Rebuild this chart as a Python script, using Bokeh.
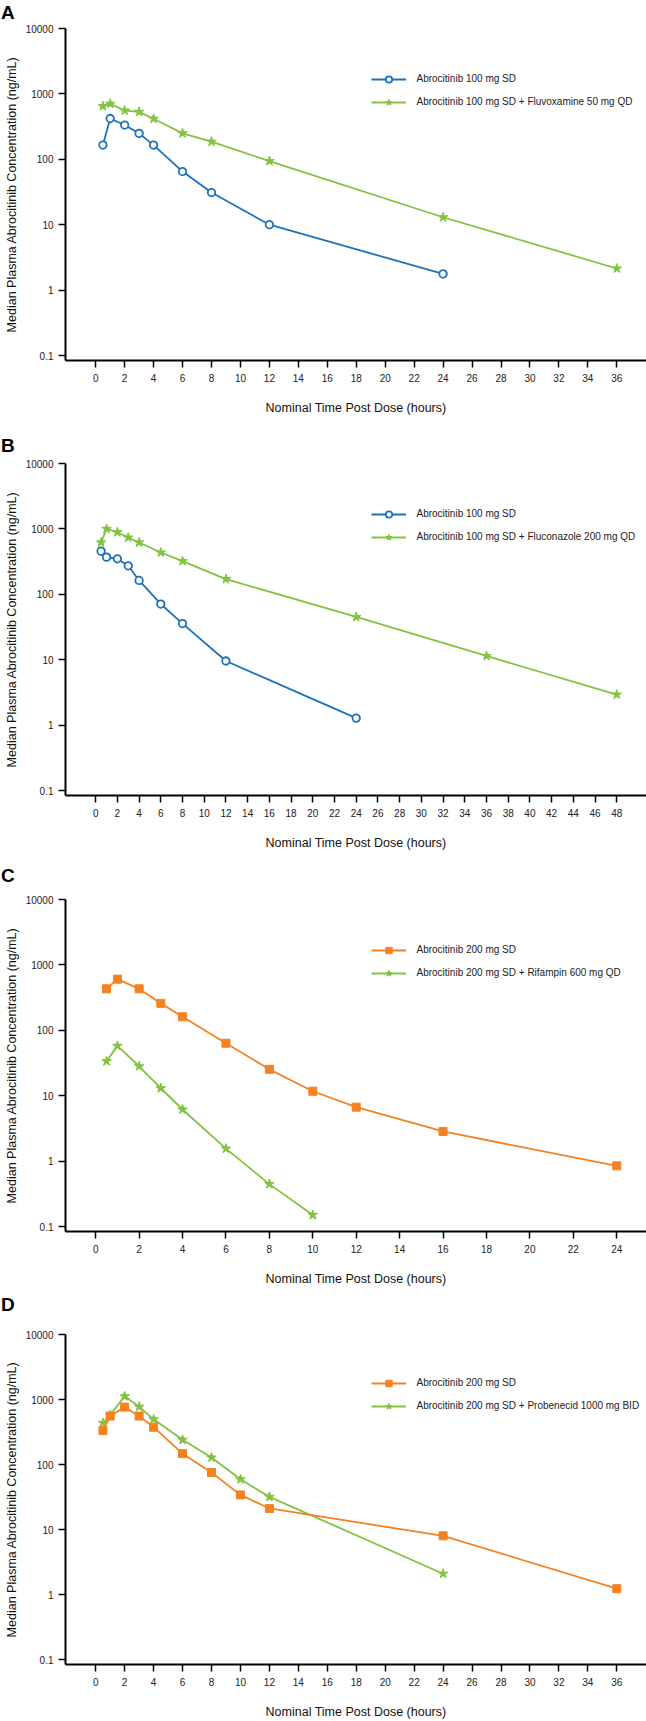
from bokeh.plotting import figure
from bokeh.models import FixedTicker, Legend, LegendItem, Range1d, LogTickFormatter, Div
from bokeh.layouts import column
from bokeh.embed import file_html
from bokeh.resources import INLINE

# ---------------- data ----------------
# Panel A: abrocitinib 100 mg SD alone vs + fluvoxamine
a_time_ref = [0.5, 1, 2, 3, 4, 6, 8, 12, 24]
a_conc_ref = [165, 421, 334, 249, 165, 65, 31, 10, 1.77]
a_time_int = [0.5, 1, 2, 3, 4, 6, 8, 12, 24, 36]
a_conc_int = [649, 705, 557, 532, 416, 249, 186, 94, 13.0, 2.14]
a_labels = ["Abrocitinib 100 mg SD", "Abrocitinib 100 mg SD + Fluvoxamine 50 mg QD"]
a_x_ticks = [0, 2, 4, 6, 8, 10, 12, 14, 16, 18, 20, 22, 24, 26, 28, 30, 32, 34, 36]

# Panel B: abrocitinib 100 mg SD alone vs + fluconazole
b_time_ref = [0.5, 1, 2, 3, 4, 6, 8, 12, 24]
b_conc_ref = [457, 370, 349, 273, 163, 71, 35.7, 9.55, 1.28]
b_time_int = [0.5, 1, 2, 3, 4, 6, 8, 12, 24, 36, 48]
b_conc_int = [620, 1000, 890, 738, 620, 436, 322, 171, 45, 11.4, 2.93]
b_labels = ["Abrocitinib 100 mg SD", "Abrocitinib 100 mg SD + Fluconazole 200 mg QD"]
b_x_ticks = [0, 2, 4, 6, 8, 10, 12, 14, 16, 18, 20, 22, 24, 26, 28, 30, 32, 34, 36,
             38, 40, 42, 44, 46, 48]

# Panel C: abrocitinib 200 mg SD alone vs + rifampin
c_time_ref = [0.5, 1, 2, 3, 4, 6, 8, 10, 12, 16, 24]
c_conc_ref = [431, 605, 431, 258, 161, 63.5, 25.3, 11.7, 6.68, 2.84, 0.846]
c_time_int = [0.5, 1, 2, 3, 4, 6, 8, 10]
c_conc_int = [33.7, 57.8, 28.2, 13.0, 6.15, 1.55, 0.445, 0.15]
c_labels = ["Abrocitinib 200 mg SD", "Abrocitinib 200 mg SD + Rifampin 600 mg QD"]
c_x_ticks = [0, 2, 4, 6, 8, 10, 12, 14, 16, 18, 20, 22, 24]

# Panel D: abrocitinib 200 mg SD alone vs + probenecid
d_time_ref = [0.5, 1, 2, 3, 4, 6, 8, 10, 12, 24, 36]
d_conc_ref = [333, 557, 764, 557, 375, 147, 75.5, 34.1, 21.1, 8.0, 1.23]
d_time_int = [0.5, 1, 2, 3, 4, 6, 8, 10, 12, 24]
d_conc_int = [436, 575, 1123, 773, 496, 240, 128, 59.2, 31.8, 2.09]
d_labels = ["Abrocitinib 200 mg SD", "Abrocitinib 200 mg SD + Probenecid 1000 mg BID"]
d_x_ticks = [0, 2, 4, 6, 8, 10, 12, 14, 16, 18, 20, 22, 24, 26, 28, 30, 32, 34, 36]

y_ticks = [0.1, 1, 10, 100, 1000, 10000]
y_tick_labels = ["0.1", "1", "10", "100", "1000", "10000"]

panel_letters = ["A", "B", "C", "D"]
x_title = "Nominal Time Post Dose (hours)"
y_title = "Median Plasma Abrocitinib Concentration (ng/mL)"

# ---------------- style ----------------
FONT = "Liberation Sans"
BLUE = "#1b73ba"
GREEN = "#82c341"
ORANGE = "#f48221"
FRAME_H = 332
W = 646


def letter_strip(letter, height, line_h):
    return Div(text=letter, width=W, height=height,
               styles={"font-family": FONT, "font-size": "19px", "font-weight": "bold",
                       "line-height": f"{line_h}px", "color": "black",
                       "margin": "0", "padding": "0 0 0 1px"})


def make_panel(height, b_bottom, x_start, x_end, x_ticks,
               t_ref, c_ref, t_int, c_int, labels, ref_style):
    p = figure(width=W, height=height, y_axis_type="log",
               x_range=Range1d(x_start, x_end), y_range=Range1d(0.0839, 10000.5),
               output_backend="svg", toolbar_location=None,
               min_border_left=65, min_border_right=0,
               min_border_top=8, min_border_bottom=b_bottom)
    p.outline_line_color = None
    p.grid.visible = False
    p.background_fill_color = "white"

    # interaction series (green) first, reference series drawn on top
    l_int = p.line(t_int, c_int, line_color=GREEN, line_width=1.8)
    m_int = p.scatter(t_int, c_int, marker="star", size=10, fill_color=GREEN,
                      line_color=GREEN, line_width=1)
    l_ref = p.line(t_ref, c_ref, line_color=ref_style["color"], line_width=1.8)
    if ref_style["marker"] == "circle":
        m_ref = p.scatter(t_ref, c_ref, marker="circle", size=7.5, fill_color="white",
                          line_color=ref_style["color"], line_width=1.8)
    else:
        m_ref = p.scatter(t_ref, c_ref, marker="square", size=8,
                          fill_color=ref_style["color"], line_color=ref_style["color"],
                          line_width=1)

    yax = p.yaxis[0]
    yax.ticker = FixedTicker(ticks=y_ticks, minor_ticks=[])
    yax.formatter = LogTickFormatter(min_exponent=5)
    yax.major_label_overrides = dict(zip(y_ticks, y_tick_labels))
    xax = p.xaxis[0]
    xax.ticker = FixedTicker(ticks=x_ticks, minor_ticks=[])
    for ax in (xax, yax):
        ax.axis_line_width = 2
        ax.axis_line_color = "black"
        ax.major_tick_line_width = 1.5
        ax.major_tick_line_color = "black"
        ax.major_tick_in = 0
        ax.major_tick_out = 7
        ax.minor_tick_out = 0
        ax.minor_tick_in = 0
        ax.major_label_text_font = FONT
        ax.major_label_text_font_size = "10px"
        ax.major_label_text_color = "#222222"
        ax.axis_label_text_font = FONT
        ax.axis_label_text_font_size = "12.5px"
        ax.axis_label_text_font_style = "normal"
        ax.axis_label_text_color = "#111111"
    yax.major_label_standoff = 5
    yax.axis_label = y_title
    yax.axis_label_standoff = 4
    xax.major_label_standoff = 6
    xax.axis_label = x_title
    xax.axis_label_standoff = 16

    legend = Legend(items=[LegendItem(label=labels[0], renderers=[l_ref, m_ref]),
                           LegendItem(label=labels[1], renderers=[l_int, m_int])],
                    location=(305.5, FRAME_H - 42.6 - 39), orientation="vertical",
                    glyph_width=35, glyph_height=16, label_height=16, spacing=7,
                    label_standoff=11, padding=0, margin=0,
                    border_line_color=None, background_fill_alpha=0,
                    label_text_font=FONT, label_text_font_size="10px",
                    label_text_color="#222222")
    p.add_layout(legend)
    return p


blue_style = {"color": BLUE, "marker": "circle"}
orange_style = {"color": ORANGE, "marker": "square"}

la = letter_strip(panel_letters[0], 20, 26.8)
pa = make_panel(405, 65, -2.086, 38.05, a_x_ticks,
                a_time_ref, a_conc_ref, a_time_int, a_conc_int, a_labels, blue_style)
lb = letter_strip(panel_letters[1], 30, 42.8)
pb = make_panel(400, 60, -2.78, 50.74, b_x_ticks,
                b_time_ref, b_conc_ref, b_time_int, b_conc_int, b_labels, blue_style)
lc = letter_strip(panel_letters[2], 36, 42.8)
pc = make_panel(398, 58, -1.391, 25.37, c_x_ticks,
                c_time_ref, c_conc_ref, c_time_int, c_conc_int, c_labels, orange_style)
ld = letter_strip(panel_letters[3], 37, 32.8)
pd = make_panel(395, 55, -2.086, 38.05, d_x_ticks,
                d_time_ref, d_conc_ref, d_time_int, d_conc_int, d_labels, orange_style)

layout = column(la, pa, lb, pb, lc, pc, ld, pd, spacing=0)

open("out.html", "w").write(file_html(layout, INLINE))
